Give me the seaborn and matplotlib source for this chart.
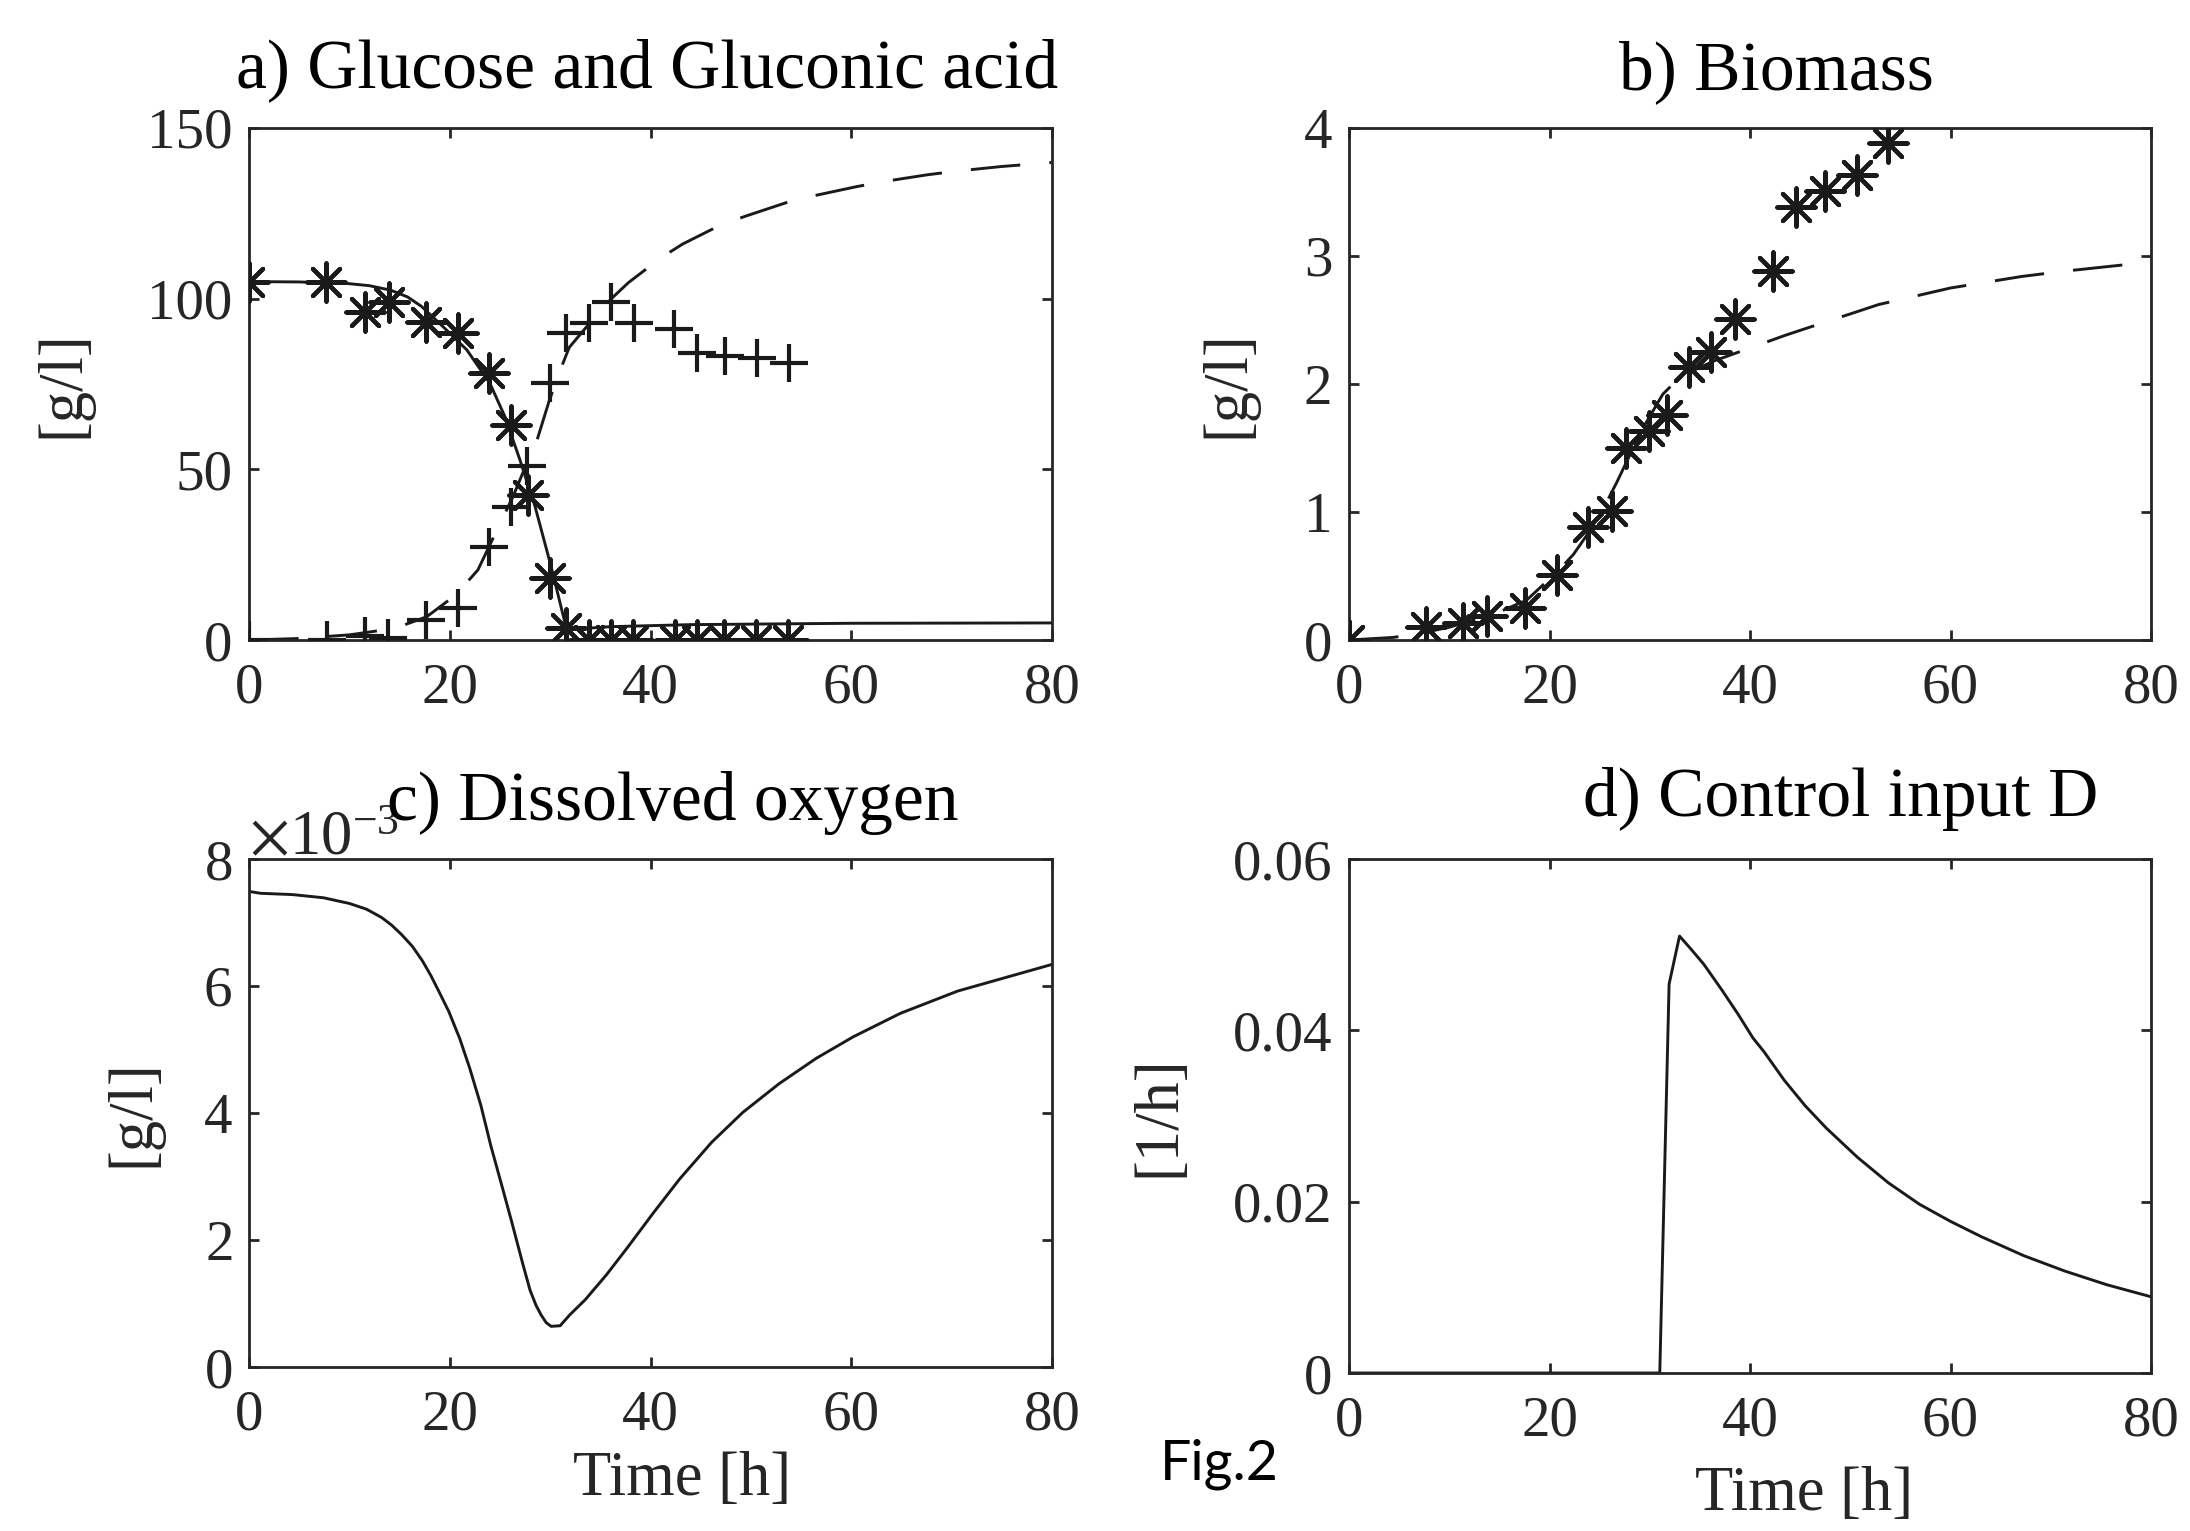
import matplotlib
matplotlib.use('Agg')
import matplotlib.pyplot as plt
import seaborn as sns
from matplotlib.ticker import ScalarFormatter, FuncFormatter

# ---- a) glucose / gluconic acid: measurements ----
glu_t = [0, 7.7, 11.6, 13.9, 17.6, 20.8, 23.9, 26.1, 27.8, 30.0, 31.6,
         33.9, 36.1, 38.3, 42.4, 44.6, 47.3, 50.5, 53.7]
glu_y = [105, 105, 96.2, 99.1, 93.3, 90.0, 78.1, 63.0, 42.5, 18.1, 3.4,
         0, 0, 0, 0, 0, 0, 0, 0]
gla_t = [0, 7.8, 11.6, 13.8, 17.6, 20.8, 23.9, 26.1, 27.7, 30.0, 31.6,
         33.9, 36.1, 38.4, 42.3, 44.6, 47.4, 50.6, 53.8]
gla_y = [0, 0, 1.2, 0.5, 5.9, 9.3, 27.1, 39.1, 51.0, 75.2, 90.0,
         93.0, 99.1, 93.0, 91.0, 84.2, 83.2, 82.5, 81.1]

# ---- a) model curves ----
glu_model_t = [0, 5, 9.6, 12.0, 14.1, 15.8, 17.2, 19.4, 21.7, 24.0, 25.5, 27.0, 28.5,
               30.1, 31.6, 33.0, 36.0, 44.0, 60.0, 80.0]
glu_model_y = [105, 104.9, 104.5, 103.8, 102.5, 100.5, 97.7, 91.6, 85.0, 75.2, 65.4, 52.7, 39.1,
               21.5, 3.6, 3.3, 3.9, 4.5, 4.9, 5.0]
gla_model_t = [0, 4.6, 10, 14.5, 17.7, 20.6, 22.8, 24.7, 26.3, 27.4, 28.7, 29.9,
               31.0, 31.9, 33.5, 36.1, 37.8, 41.1, 43.2, 47.0, 49.5, 53.8, 56.2,
               60.5, 63.2, 67.6, 70.3, 74.9, 80]
gla_model_y = [0, 0.4, 1.5, 3.4, 6.8, 13.2, 20.5, 32.2, 42.0, 49.8, 58.6, 70.0,
               79.0, 85.7, 91.3, 100.0, 104.7, 112.1, 116.0, 121.6, 124.2, 128.4, 130.1,
               132.8, 134.3, 136.3, 137.3, 138.7, 139.9]

# ---- b) biomass ----
bio_t = [0, 7.7, 11.4, 13.8, 17.6, 20.7, 23.8, 26.2, 27.6, 29.9, 31.7,
         33.9, 36.1, 38.5, 42.3, 44.6, 47.5, 50.7, 53.8]
bio_y = [0.0, 0.10, 0.13, 0.19, 0.25, 0.51, 0.88, 1.01, 1.50, 1.63, 1.76,
         2.13, 2.25, 2.51, 2.88, 3.38, 3.51, 3.63, 3.88]
bio_model_t = [0, 4.4, 7.0, 10, 14.4, 17.7, 21.0, 22.4, 24.8, 26.7, 27.8, 29.5,
               31.3, 33.1, 36.4, 39.6, 43.5, 46.2, 50.1, 52.8, 60, 67.1, 71.2, 78.4, 80]
bio_model_y = [0, 0.02, 0.05, 0.10, 0.20, 0.31, 0.55, 0.67, 0.94, 1.23, 1.41, 1.68,
               1.92, 2.06, 2.18, 2.27, 2.38, 2.45, 2.55, 2.62, 2.75, 2.84, 2.88, 2.94, 2.95]

# ---- c) dissolved oxygen [g/l] ----
do_t = [0, 1.15, 4.3, 7.4, 10.0, 11.7, 13.2, 14.2, 15.2, 16.3, 17.3, 18.1, 18.9, 19.9,
        21.0, 22.0, 23.1, 24.1, 25.2, 26.2, 27.3, 28.0, 28.6, 29.1, 29.6, 30.1, 31.0,
        31.95, 33.5, 35.6, 37.7, 40.3, 42.9, 46.1, 49.2, 52.8, 56.5, 60.2, 64.9,
        70.6, 75.3, 80]
do_y = [0.00749, 0.00746, 0.00744, 0.00739, 0.00730, 0.00721, 0.00708, 0.00696,
        0.00681, 0.00662, 0.00639, 0.00617, 0.00592, 0.00560, 0.00517, 0.00470,
        0.00412, 0.00348, 0.00285, 0.00227, 0.00161, 0.00121, 0.00097, 0.00082,
        0.00070, 0.00064, 0.00065, 0.00082, 0.00106, 0.00145, 0.00188, 0.00243,
        0.00296, 0.00354, 0.00401, 0.00446, 0.00486, 0.00520, 0.00557, 0.00592,
        0.00613, 0.00634]

# ---- d) control input D [1/h] ----
d_t = [0, 31.0, 31.93, 32.97, 34.1, 35.4, 37.2, 38.8, 40.3, 41.4, 43.4, 45.5,
       47.6, 50.7, 53.8, 56.9, 60.0, 63.1, 67.3, 71.4, 75.6, 80]
d_y = [0, 0, 0.0454, 0.0510, 0.0495, 0.0477, 0.0447, 0.0419, 0.0391, 0.0375,
       0.0342, 0.0312, 0.0286, 0.0252, 0.0222, 0.0197, 0.0177, 0.0159, 0.0137,
       0.0119, 0.0103, 0.0089]

x_ticks = [0, 20, 40, 60, 80]

sns.set_theme(style='ticks')
plt.rcParams['font.family'] = ['Liberation Serif', 'DejaVu Serif']
plt.rcParams['mathtext.fontset'] = 'stix'

INK = '#262626'
DASH = (0, (17, 10))
STAR = (8, 2, 0)
TICK_FS = 41
LAB_FS = 45
TITLE_FS = 50
LW = 2.1
W, H = 2190, 1531

fig = plt.figure(figsize=(21.9, 15.31), dpi=100)


def px_axes(left, right, top, bottom):
    return fig.add_axes([left / W, 1 - bottom / H, (right - left) / W, (bottom - top) / H])


def style(ax, yticks, ylim):
    ax.set_xlim(0, 80)
    ax.set_ylim(*ylim)
    ax.set_xticks(x_ticks)
    ax.set_yticks(yticks)
    ax.tick_params(direction='in', length=7, width=2.0, top=True, right=True,
                   labelsize=TICK_FS, colors=INK)
    ax.tick_params(axis='x', pad=16)
    ax.tick_params(axis='y', pad=12)
    for sp in ax.spines.values():
        sp.set_visible(True)
        sp.set_linewidth(2.0)
        sp.set_color(INK)
    ax.set_xlabel('')
    ax.set_ylabel('')


ax_a = px_axes(249, 1052, 128, 640)
ax_b = px_axes(1349, 2151, 128, 640)
ax_c = px_axes(249, 1052, 859, 1367)
ax_d = px_axes(1349, 2151, 859, 1373)

# a) Glucose and gluconic acid
sns.lineplot(x=glu_model_t, y=glu_model_y, ax=ax_a, color='k', lw=LW)
sns.lineplot(x=gla_model_t, y=gla_model_y, ax=ax_a, color='k', lw=LW, linestyle=DASH)
sns.scatterplot(x=glu_t, y=glu_y, ax=ax_a, marker=STAR, s=760, color='k', linewidth=3.0, zorder=3)
sns.scatterplot(x=gla_t, y=gla_y, ax=ax_a, marker='+', s=760, color='k', linewidth=3.0, zorder=3)
style(ax_a, [0, 50, 100, 150], (0, 150))

# b) Biomass
sns.lineplot(x=bio_model_t, y=bio_model_y, ax=ax_b, color='k', lw=LW, linestyle=DASH)
sns.scatterplot(x=bio_t, y=bio_y, ax=ax_b, marker=STAR, s=760, color='k', linewidth=3.0, zorder=3)
style(ax_b, [0, 1, 2, 3, 4], (0, 4))

# c) Dissolved oxygen
sns.lineplot(x=do_t, y=do_y, ax=ax_c, color='k', lw=LW)
style(ax_c, [0, 0.002, 0.004, 0.006, 0.008], (0, 0.008))
fmt = ScalarFormatter(useMathText=True)
fmt.set_powerlimits((-2, 2))
ax_c.yaxis.set_major_formatter(fmt)
ax_c.yaxis.get_offset_text().set_fontsize(TICK_FS + 4)
ax_c.yaxis.get_offset_text().set_color(INK)

# d) Control input D
sns.lineplot(x=d_t, y=d_y, ax=ax_d, color='k', lw=LW)
style(ax_d, [0, 0.02, 0.04, 0.06], (0, 0.06))
ax_d.yaxis.set_major_formatter(FuncFormatter(lambda v, p: '0' if abs(v) < 1e-12 else f'{v:.2f}'))

# titles (positions as in the original figure)
def title(x, y, s):
    fig.text(x / 1568, 1 - y / 1096, s, fontsize=TITLE_FS, color='black', ha='center', va='center')

title(463, 50, 'a) Glucose and Gluconic acid')
title(1272, 52, 'b) Biomass')
title(482, 575, 'c) Dissolved oxygen')
title(1318, 572, 'd) Control input D')

# y labels
for ax, lab, x in [(ax_a, '[g/l]', -0.231), (ax_b, '[g/l]', -0.150),
                   (ax_c, '[g/l]', -0.144), (ax_d, '[1/h]', -0.237)]:
    ax.set_ylabel(lab, fontsize=LAB_FS, color=INK, va='center')
    ax.yaxis.set_label_coords(x, 0.5)

ax_c.set_xlabel('Time [h]', fontsize=LAB_FS, color=INK, va='center')
ax_c.xaxis.set_label_coords(0.539, -0.222)
ax_d.set_xlabel('Time [h]', fontsize=LAB_FS, color=INK, va='center')
ax_d.xaxis.set_label_coords(0.568, -0.237)

fig.text(873 / 1568, 1 - 1048 / 1096, 'Fig.2', fontsize=40, family=['Lato', 'DejaVu Sans'],
         color='black', ha='center', va='center')

fig.savefig('out.png', dpi=100, facecolor='white')
